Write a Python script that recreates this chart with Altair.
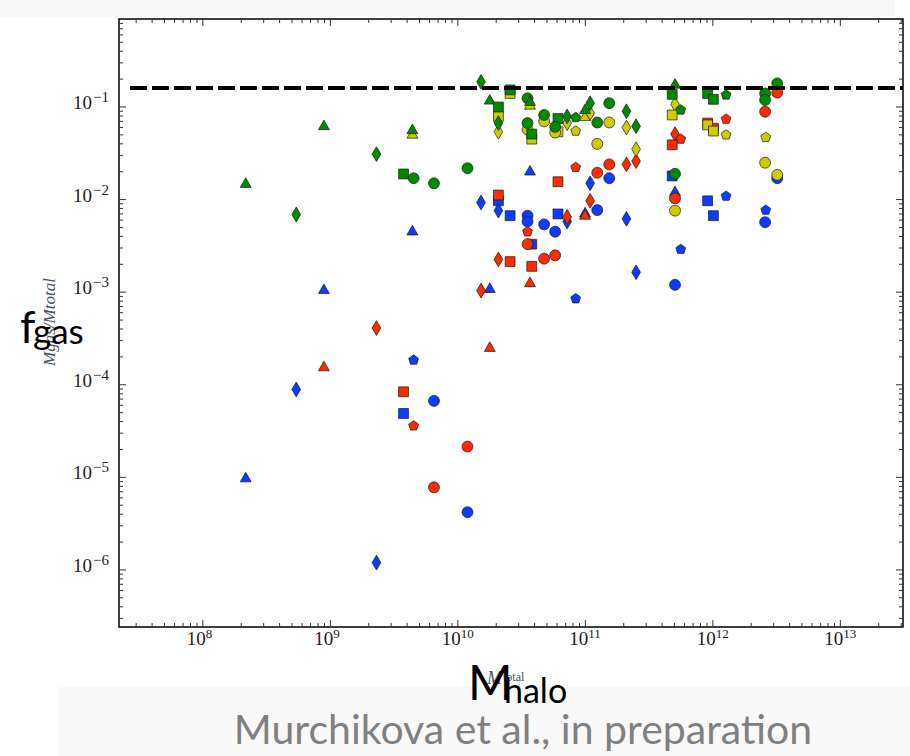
import altair as alt
import pandas as pd

# ---------------- data ----------------
blue_shape = ["triangle", "diamond", "triangle", "diamond", "triangle", "pentagon", "square", "circle",
              "circle", "diamond", "triangle", "square", "diamond", "square", "circle", "circle",
              "triangle", "square", "circle", "circle", "square", "diamond", "pentagon", "triangle",
              "diamond", "circle", "circle", "diamond", "diamond", "square", "triangle", "pentagon",
              "circle", "square", "square", "pentagon", "pentagon", "circle", "circle"]
blue_mass = [2.17e8, 5.4e8, 8.9e8, 2.3e9, 4.4e9, 4.5e9, 3.75e9, 6.5e9,
             1.19e10, 1.52e10, 1.78e10, 2.08e10, 2.08e10, 2.57e10, 3.52e10, 3.52e10,
             3.68e10, 3.8e10, 4.75e10, 5.8e10, 6.1e10, 7.2e10, 8.4e10, 9.95e10,
             1.09e11, 1.24e11, 1.54e11, 2.1e11, 2.5e11, 4.8e11, 5.05e11, 5.6e11,
             5.05e11, 9.1e11, 1.01e12, 1.27e12, 2.6e12, 2.57e12, 3.2e12]
blue_fgas = [9.9e-6, 8.9e-5, 1.07e-3, 1.2e-6, 4.6e-3, 1.85e-4, 4.9e-5, 6.7e-5,
             4.2e-6, 9.3e-3, 1.1e-3, 9.7e-3, 7.6e-3, 6.7e-3, 6.7e-3, 5.8e-3,
             2.04e-2, 3.3e-3, 5.4e-3, 4.5e-3, 7.0e-3, 5.8e-3, 8.5e-4, 7.2e-3,
             1.5e-2, 7.7e-3, 1.7e-2, 6.2e-3, 1.64e-3, 1.8e-2, 1.22e-2, 2.9e-3,
             1.2e-3, 9.7e-3, 6.7e-3, 1.09e-2, 7.7e-3, 5.7e-3, 1.7e-2]

red_shape = ["triangle", "diamond", "square", "pentagon", "circle", "circle", "diamond", "triangle",
             "square", "diamond", "square", "pentagon", "circle", "square", "triangle", "circle",
             "circle", "square", "diamond", "pentagon", "triangle", "diamond", "circle", "circle",
             "diamond", "diamond", "diamond", "pentagon", "square", "circle", "square", "square",
             "pentagon", "circle", "circle"]
red_mass = [8.9e8, 2.3e9, 3.75e9, 4.5e9, 6.5e9, 1.19e10, 1.52e10, 1.78e10,
            2.08e10, 2.08e10, 2.57e10, 3.52e10, 3.52e10, 3.8e10, 3.68e10, 4.75e10,
            5.8e10, 6.1e10, 7.2e10, 8.4e10, 9.95e10, 1.09e11, 1.24e11, 1.54e11,
            2.1e11, 2.5e11, 5.05e11, 5.6e11, 4.8e11, 5.05e11, 9.1e11, 1.01e12,
            1.27e12, 2.57e12, 3.2e12]
red_fgas = [1.57e-4, 4.1e-4, 8.4e-5, 3.6e-5, 7.8e-6, 2.15e-5, 1.04e-3, 2.54e-4,
            1.12e-2, 2.26e-3, 2.14e-3, 4.5e-3, 3.3e-3, 1.9e-3, 1.27e-3, 2.3e-3,
            2.5e-3, 1.56e-2, 6.5e-3, 2.23e-2, 6.8e-3, 9.7e-3, 1.95e-2, 2.4e-2,
            2.4e-2, 2.6e-2, 5.1e-2, 4.5e-2, 3.9e-2, 1.03e-2, 6.7e-2, 5.9e-2,
            7.4e-2, 8.9e-2, 1.43e-1]

yellow_shape = ["triangle", "square", "diamond", "square", "triangle", "circle", "square", "circle",
                "square", "circle", "diamond", "pentagon", "triangle", "diamond", "circle", "circle",
                "diamond", "diamond", "diamond", "square", "circle", "square", "square", "pentagon",
                "pentagon", "circle", "circle"]
yellow_mass = [4.4e9, 2.08e10, 2.08e10, 2.57e10, 3.68e10, 3.52e10, 3.8e10, 4.75e10,
               6.1e10, 5.8e10, 7.2e10, 8.4e10, 9.95e10, 1.09e11, 1.24e11, 1.54e11,
               2.1e11, 2.5e11, 5.05e11, 4.8e11, 5.05e11, 9.1e11, 1.01e12, 1.27e12,
               2.6e12, 2.57e12, 3.2e12]
yellow_fgas = [5.1e-2, 7.9e-2, 5.4e-2, 1.4e-1, 1.05e-1, 5.7e-2, 4.5e-2, 7.0e-2,
               5.4e-2, 5.3e-2, 6.7e-2, 5.5e-2, 7.9e-2, 8.6e-2, 4.0e-2, 6.8e-2,
               6.0e-2, 3.5e-2, 1.07e-1, 8.2e-2, 7.6e-3, 6.4e-2, 5.5e-2, 5.0e-2,
               4.7e-2, 2.5e-2, 1.85e-2]

green_shape = ["triangle", "diamond", "triangle", "diamond", "square", "triangle", "circle", "circle",
               "circle", "diamond", "triangle", "square", "diamond", "square", "circle", "triangle",
               "circle", "square", "circle", "square", "circle", "diamond", "pentagon", "triangle",
               "diamond", "circle", "circle", "diamond", "diamond", "triangle", "square", "pentagon",
               "circle", "square", "square", "pentagon", "circle", "circle", "circle"]
green_mass = [2.17e8, 5.4e8, 8.9e8, 2.3e9, 3.75e9, 4.4e9, 4.5e9, 6.5e9,
              1.19e10, 1.52e10, 1.78e10, 2.08e10, 2.08e10, 2.57e10, 3.52e10, 3.68e10,
              3.52e10, 3.8e10, 4.75e10, 6.1e10, 5.8e10, 7.2e10, 8.4e10, 9.95e10,
              1.09e11, 1.24e11, 1.54e11, 2.1e11, 2.5e11, 5.05e11, 4.8e11, 5.6e11,
              5.05e11, 9.1e11, 1.01e12, 1.27e12, 2.57e12, 2.57e12, 3.2e12]
green_fgas = [1.5e-2, 6.9e-3, 6.3e-2, 3.1e-2, 1.89e-2, 5.7e-2, 1.7e-2, 1.5e-2,
              2.18e-2, 1.87e-1, 1.19e-1, 1.0e-1, 6.7e-2, 1.53e-1, 1.24e-1, 1.15e-1,
              6.7e-2, 5.1e-2, 8.2e-2, 7.5e-2, 6.1e-2, 7.9e-2, 7.7e-2, 9.4e-2,
              1.1e-1, 6.8e-2, 1.1e-1, 9.0e-2, 6.2e-2, 1.77e-1, 1.37e-1, 9.3e-2,
              1.9e-2, 1.4e-1, 1.21e-1, 1.35e-1, 1.4e-1, 1.19e-1, 1.8e-1]

baryon_fraction = [0.16]

x_tick_values = [1e8, 1e9, 1e10, 1e11, 1e12, 1e13]
x_tick_exponents = ["8", "9", "10", "11", "12", "13"]
y_tick_values = [1e-6, 1e-5, 1e-4, 1e-3, 1e-2, 1e-1]
y_tick_exponents = ["−6", "−5", "−4", "−3", "−2", "−1"]
tick_base = "10"

# ---------------- build table ----------------
groups = [("blue", blue_shape, blue_mass, blue_fgas),
          ("red", red_shape, red_mass, red_fgas),
          ("yellow", yellow_shape, yellow_mass, yellow_fgas),
          ("green", green_shape, green_mass, green_fgas)]
rows = []
for g, sh, ms, fg in groups:
    for s, m, f in zip(sh, ms, fg):
        rows.append({"group": g, "shape": s, "mass": m, "fgas": f})
df = pd.DataFrame(rows)

W, H = 784, 608
X_DOMAIN = [2.2e7, 3.1e13]
Y_DOMAIN = [2.42e-7, 0.892]
xs = alt.Scale(type="log", domain=X_DOMAIN, nice=False)
ys = alt.Scale(type="log", domain=Y_DOMAIN, nice=False)


def X():
    return alt.X("mass:Q", scale=xs, axis=None)


def Y():
    return alt.Y("fgas:Q", scale=ys, axis=None)


def minor(lo_exp, hi_exp, dom):
    out = []
    for e in range(lo_exp, hi_exp + 1):
        for k in range(2, 10):
            v = k * 10.0 ** e
            if dom[0] <= v <= dom[1]:
                out.append(v)
    return out


x_minor = minor(7, 13, X_DOMAIN)
y_minor = minor(-7, -1, Y_DOMAIN)

label_font = "Liberation Serif, DejaVu Serif, serif"

# marker geometry (all drawn at one symbol size; shapes scaled inside their paths)
square_path = "M-0.9,-0.9L0.9,-0.9L0.9,0.9L-0.9,0.9Z"
triangle_path = "M0,-1.0L1.0,0.75L-1.0,0.75Z"
diamond_path = "M0,-1.35L0.8,0L0,1.35L-0.8,0Z"
pentagon_path = "M0,-0.95L0.9,-0.29L0.56,0.77L-0.56,0.77L-0.9,-0.29Z"
shape_dom = ["circle", "square", "triangle", "diamond", "pentagon"]

points = alt.Chart(df).mark_point(filled=True, opacity=1, stroke="#1a1a1a", strokeWidth=0.7,
                                  size=120).encode(
    x=X(), y=Y(),
    color=alt.Color("group:N", scale=alt.Scale(domain=["blue", "red", "yellow", "green"],
                                               range=["#0d3bff", "#ff2a00", "#cccc00", "#008a00"]),
                    legend=None),
    shape=alt.Shape("shape:N", scale=alt.Scale(domain=shape_dom,
                                               range=["circle", square_path, triangle_path,
                                                      diamond_path, pentagon_path]), legend=None),
)

baryon = alt.Chart(pd.DataFrame({"fgas": baryon_fraction})).mark_rule(
    color="black", strokeWidth=4, strokeDash=[17, 5]).encode(
    y=Y(), x=alt.value(11), x2=alt.value(W))

# tick labels: base "10" plus superscript exponent
xdf = pd.DataFrame({"mass": x_tick_values, "e": x_tick_exponents, "b": [tick_base] * len(x_tick_values)})
ydf = pd.DataFrame({"fgas": y_tick_values, "e": y_tick_exponents, "b": [tick_base] * len(y_tick_values)})
x_base = alt.Chart(xdf).mark_text(align="right", baseline="alphabetic", dx=3, fontSize=19,
                                  font=label_font, color="#222").encode(
    x=X(), y=alt.value(H + 18), text="b:N")
x_exp = alt.Chart(xdf).mark_text(align="left", baseline="alphabetic", dx=3, fontSize=13,
                                 font=label_font, color="#222").encode(
    x=X(), y=alt.value(H + 11), text="e:N")
y_base = alt.Chart(ydf).mark_text(align="right", baseline="alphabetic", dy=2, fontSize=19,
                                  font=label_font, color="#222").encode(
    y=Y(), x=alt.value(-27), text="b:N")
y_exp = alt.Chart(ydf).mark_text(align="left", baseline="alphabetic", dy=-5, fontSize=15,
                                 font=label_font, color="#222").encode(
    y=Y(), x=alt.value(-26), text="e:N")


def tick_layers(L, xv, yv):
    dx = pd.DataFrame({"mass": xv})
    dy = pd.DataFrame({"fgas": yv})
    out = []
    bx = alt.Chart(dx).mark_rule(color="#333", strokeWidth=1)
    out.append(bx.encode(x=X(), y=alt.value(H), y2=alt.value(H - L)))
    out.append(bx.encode(x=X(), y=alt.value(0), y2=alt.value(L)))
    by = alt.Chart(dy).mark_rule(color="#333", strokeWidth=1)
    out.append(by.encode(y=Y(), x=alt.value(0), x2=alt.value(L)))
    out.append(by.encode(y=Y(), x=alt.value(W), x2=alt.value(W - L)))
    return out


def txt(s, x, y, size, color="black", font="Lato", align="left", angle=0, style="normal"):
    kw = dict(align=align, baseline="alphabetic", fontSize=size, color=color, font=font,
              fontStyle=style)
    if angle:
        kw["angle"] = angle
    return alt.Chart(pd.DataFrame({"t": [s]})).mark_text(**kw).encode(
        x=alt.value(x), y=alt.value(y), text="t:N")


def band(x1, x2, y1, y2, color):
    return alt.Chart(pd.DataFrame({"a": [0]})).mark_rect(color=color).encode(
        x=alt.value(x1), x2=alt.value(x2), y=alt.value(y1), y2=alt.value(y2))


# offsets: plot origin at (119, 19) in the page
layers = [
    band(-61, 791, 668, 737, "#f9f9f9"),
    band(-119, 776, -19, -2, "#f8f8f8"),
    txt("Mgas/Mtotal", -64, 303, 17, color="#4a5266", font=label_font, align="center",
        angle=270, style="italic"),
    txt("M", 368, 665, 18, color="#4a5266", font=label_font, style="italic"),
    txt("total", 384, 662, 12, color="#4a5266", font=label_font),
    points,
    baryon,
    x_base, x_exp, y_base, y_exp,
    *tick_layers(7, x_tick_values, y_tick_values),
    *tick_layers(4, x_minor, y_minor),
    txt("f", -99, 324, 44),
    txt("gas", -86, 325, 35),
    txt("M", 349, 681, 48),
    txt("halo", 385, 684, 34),
    txt("Murchikova et al., in preparation", 404, 725, 41, color="#808080", align="center"),
]

chart = alt.layer(*layers).properties(
    width=W, height=H,
    autosize=alt.AutoSizeParams(type="none"),
    padding={"left": 119, "top": 19, "right": 7, "bottom": 129},
    background="white",
).configure_view(stroke="black", strokeWidth=1.5)

chart.save("out.html", embed_options={"renderer": "svg", "actions": False})
